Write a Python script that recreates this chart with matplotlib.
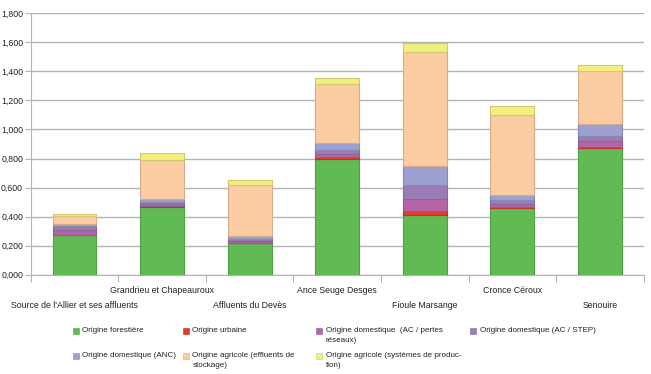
import matplotlib.pyplot as plt
import matplotlib.colors as mcolors
import matplotlib.transforms as mtransforms
from matplotlib.patches import Rectangle
import numpy as np

plt.rcParams['font.family'] = ['Liberation Sans', 'DejaVu Sans']

sites = ["Source de l'Allier et ses affluents", "Grandrieu et Chapeauroux",
         "Affluents du Devès", "Ance Seuge Desges", "Fioule Marsange",
         "Cronce Céroux", "Senouire"]

foret = [0.273, 0.466, 0.218, 0.800, 0.409, 0.462, 0.873]
urbain = [0.003, 0.010, 0.002, 0.007, 0.028, 0.002, 0.005]
dom_pertes = [0.034, 0.014, 0.012, 0.027, 0.087, 0.026, 0.041]
dom_step = [0.023, 0.013, 0.011, 0.028, 0.097, 0.022, 0.037]
dom_anc = [0.019, 0.016, 0.023, 0.046, 0.126, 0.037, 0.081]
agri_eff = [0.055, 0.274, 0.355, 0.402, 0.784, 0.554, 0.367]
agri_sys = [0.013, 0.048, 0.034, 0.042, 0.066, 0.056, 0.037]

series = [foret, urbain, dom_pertes, dom_step, dom_anc, agri_eff, agri_sys]
names = ["Origine forestière", "Origine urbaine",
         "Origine domestique  (AC / pertes\nréseaux)",
         "Origine domestique (AC / STEP)", "Origine domestique (ANC)",
         "Origine agricole (effluents de\nstockage)",
         "Origine agricole (systèmes de produc-\ntion)"]
colors = ["#62ba55", "#e8392a", "#b565a7", "#9b7db6", "#9fa0d2", "#fccca2", "#f2ee80"]

W, H = 651, 374
fig = plt.figure(figsize=(W / 100, H / 100), dpi=100)
ax = fig.add_axes([0.0472, 0.2655, 0.9416, 0.699])

x = np.arange(len(sites))
bottom = np.zeros(len(sites))
for vals, name, col in zip(series, names, colors):
    edge = np.array(mcolors.to_rgb(col)) * 0.85
    ax.bar(x, vals, 0.5, bottom=bottom, color=col, edgecolor=edge,
           linewidth=0.8, zorder=3)
    bottom += np.array(vals)

ax.set_xlim(-0.5, len(sites) - 0.5)
ax.set_ylim(0, 1.8)
yt = np.arange(0, 1.81, 0.2)
ax.set_yticks(yt)
ax.set_yticklabels([f"{v:.3f}".replace('.', ',') for v in yt])
ax.grid(axis='y', color='#b3b3b3', linewidth=1, zorder=0)
ax.tick_params(axis='y', length=4, color='#b3b3b3', labelsize=6.3, pad=1.5,
               labelcolor='#222222')

ax.set_xticks(np.arange(-0.5, len(sites), 1))
ax.set_xticklabels([])
ax.tick_params(axis='x', which='major', length=5, color='#b3b3b3')

# staggered category labels: two rows below the axis
for i, s in enumerate(sites):
    dy = -30.5 if i % 2 == 0 else -15.5
    tr = mtransforms.offset_copy(ax.get_xaxis_transform(), fig=fig, y=dy, units='dots')
    ax.text(i, 0, s, transform=tr, ha='center', va='center', fontsize=6.3,
            color='#222222')

for side in ['top', 'right']:
    ax.spines[side].set_visible(False)
for side in ['left', 'bottom']:
    ax.spines[side].set_color('#b3b3b3')

# legend laid out as a 4-column grid, entries row by row
col_x = [73, 183, 316, 470]
row_y = [327.5, 352.5]
for k, (name, col) in enumerate(zip(names, colors)):
    r, c = divmod(k, 4)
    sx, ty = col_x[c], row_y[r]
    fig.patches.append(Rectangle((sx / W, 1 - (ty + 6) / H), 6 / W, 6 / H,
                                 transform=fig.transFigure, facecolor=col,
                                 edgecolor=np.array(mcolors.to_rgb(col)) * 0.85,
                                 linewidth=0.4))
    fig.text((sx + 9.5) / W, 1 - (ty - 0.2) / H, name, fontsize=5.8, va='top',
             ha='left', linespacing=1.6, color='#222222')

fig.savefig("out.png", dpi=100)
